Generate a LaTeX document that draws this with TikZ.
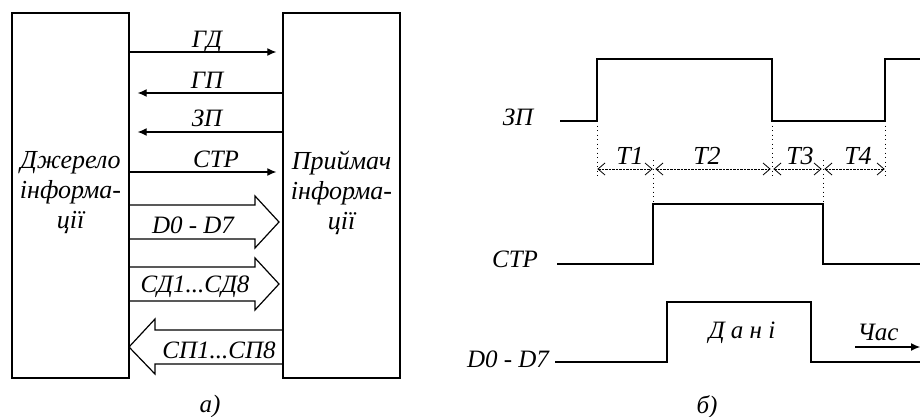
\documentclass[tikz,border=0pt]{standalone}
\usepackage{fontspec}
\setmainfont{Liberation Serif}
\usetikzlibrary{arrows.meta}
\begin{document}
\begin{tikzpicture}[x=1pt,y=-1pt,
  lbl/.style={font=\fontsize{25}{30}\selectfont\itshape, inner sep=0pt, anchor=base},
  tlbl/.style={font=\fontsize{26}{30}\selectfont\itshape, inner sep=0pt, anchor=base},
  boxtxt/.style={font=\fontsize{26}{30}\selectfont\itshape, inner sep=0pt, align=center},
  box/.style={draw, line width=1.4pt, minimum width=117pt, minimum height=365pt, inner sep=0pt},
  sig/.style={line width=1.5pt},
  wire/.style={line width=1.1pt, -{Latex[length=9pt,width=8pt]}},
  bus/.style={line width=1.2pt, line join=miter},
  dim/.style={line width=0.6pt, dash pattern=on 2.5pt off 1pt},
  barb/.style={line width=0.8pt, solid},
  guide/.style={line width=1pt, dash pattern=on 1pt off 3.5pt}]
\useasboundingbox (0,0) rectangle (920,417);
% ---- a) ----
\node[box] (src) at (70.5,195.5) {};
\node[box] (dst) at (341.5,195.5) {};
\node[boxtxt] (srct) at (70.5,193) {Джерело\\інформа-\\ції};
\node[boxtxt] (dstt) at (341.5,193) {Приймач\\інформа-\\ції};

\draw[wire] (src.east |- 0,52) -- ([xshift=-6pt]dst.west |- 0,52);
\draw[wire] (dst.west |- 0,93) -- ([xshift=8pt]src.east |- 0,93);
\draw[wire] (dst.west |- 0,132) -- ([xshift=8pt]src.east |- 0,132);
\draw[wire] (src.east |- 0,172) -- ([xshift=-6pt]dst.west |- 0,172);
\node[lbl] (lgd) at (207,48) {ГД};
\node[lbl] (lgp) at (207,89) {ГП};
\node[lbl] (lzp) at (207,127) {ЗП};
\node[lbl] (lstr) at (216,167) {СТР};

\coordinate (t1) at (279,222);
\coordinate (t2) at (279,284);
\coordinate (t3) at (129,347);
\draw[bus] (src.east |- 0,205) -- (255,205) -- (255,196) -- (t1) -- (255,248) -- (255,239) -- (src.east |- 0,239);
\draw[bus] (src.east |- 0,267) -- (255,267) -- (255,258) -- (t2) -- (255,310) -- (255,301) -- (src.east |- 0,301);
\draw[bus] (dst.west |- 0,330) -- (155,330) -- (155,319) -- (t3) -- (155,374) -- (155,364) -- (dst.west |- 0,364);
\node[lbl] (ld) at (193,233) {D0 - D7};
\node[lbl] (lsd) at (195,292) {СД1...СД8};
\node[lbl] (lsp) at (219,358) {СП1...СП8};
\node[lbl] (la) at (210,412) {а)};

% ---- b) ----
\draw[sig] (560,121) -- (597,121) -- (597,59) -- (772,59) -- (772,121) -- (885,121) -- (885,59) -- (920,59);
\draw[sig] (557,264) -- (653,264) -- (653,204) -- (823,204) -- (823,264) -- (920,264);
\draw[sig] (555,362) -- (667,362) -- (667,302) -- (811,302) -- (811,362) -- (920,362);

\draw[guide] (597,121) -- (597,178);
\draw[guide] (653,160) -- (653,204);
\draw[guide] (772,121) -- (772,178);
\draw[guide] (823,160) -- (823,204);
\draw[guide] (885,121) -- (885,178);

\draw[dim] (598,169) -- (652,169);
\draw[dim] (656,169) -- (770,169);
\draw[dim] (774,169) -- (821,169);
\draw[dim] (825,169) -- (884,169);
% barbs
\foreach \xa/\xb in {598/652, 656/770, 774/821, 825/884}{
  \draw[barb] (\xa+7,163) -- (\xa,169) -- (\xa+7,175);
  \draw[barb] (\xb-7,163) -- (\xb,169) -- (\xb-7,175);
}
\node[tlbl] (lt1) at (630,164) {T1};
\node[tlbl] (lt2) at (707,164) {T2};
\node[tlbl] (lt3) at (800,164) {T3};
\node[tlbl] (lt4) at (858,164) {T4};

\node[lbl] (szp) at (518,125) {ЗП};
\node[lbl] (sstr) at (515,267) {СТР};
\node[lbl] (sd) at (508,367) {D0 - D7};
\node[lbl] (sdani) at (742,338) {Д а н і};
\node[lbl] (stime) at (878,340) {Час};
\coordinate (ts) at (855,347);
\coordinate (te) at (920,347);
\draw[line width=1.1pt, -{Latex[length=9pt,width=8pt]}] (ts) -- (te);
\node[lbl] (lb) at (707,413) {б)};
\end{tikzpicture}
\end{document}
